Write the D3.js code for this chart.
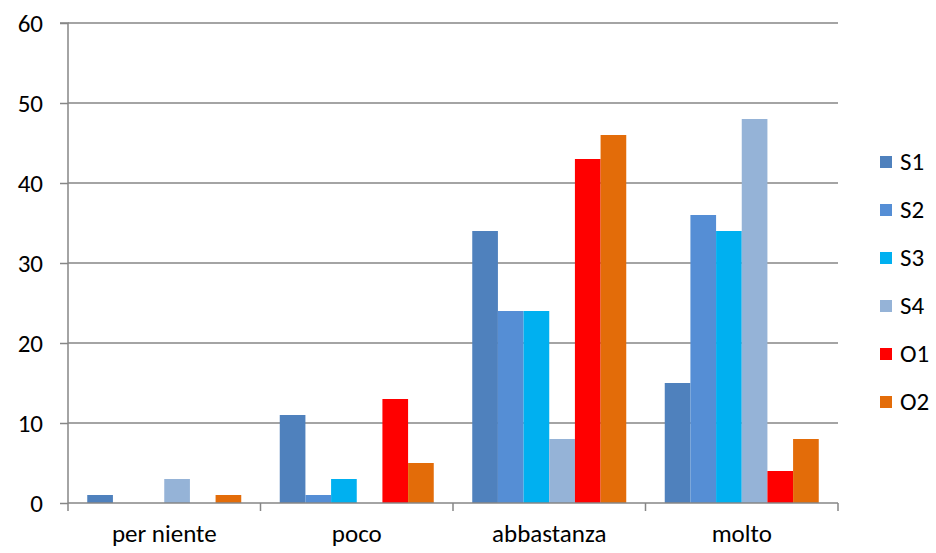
<!DOCTYPE html>
<html><head><meta charset="utf-8">
<script src="https://cdn.jsdelivr.net/npm/d3@7"></script>
<style>body{margin:0;background:#fff}svg{display:block}text{font-family:Carlito,Calibri,"Open Sans",sans-serif}</style>
</head><body><svg id="c" width="936" height="553"></svg>
<script>
const categories = ["per niente", "poco", "abbastanza", "molto"];
const seriesNames = ["S1", "S2", "S3", "S4", "O1", "O2"];
const S1 = [1, 11, 34, 15];
const S2 = [0, 1, 24, 36];
const S3 = [0, 3, 24, 34];
const S4 = [3, 0, 8, 48];
const O1 = [0, 13, 43, 4];
const O2 = [1, 5, 46, 8];
const yTicks = [0, 10, 20, 30, 40, 50, 60];
const colors = ["#4F81BD", "#558ED5", "#00B0F0", "#95B3D7", "#FF0000", "#E36C09"];
const seriesValues = [S1, S2, S3, S4, O1, O2];

const FS = 25;
const svg = d3.select("#c");
const L = 68, R = 838, T = 23, B = 503;
const x = d3.scaleBand().domain(categories).range([L, R]).paddingInner(0).paddingOuter(0);
const bw = x.bandwidth();
const inner = d3.scaleBand().domain(seriesNames).range([bw * 0.1, bw * 0.9]).paddingInner(0).paddingOuter(0);
const y = d3.scaleLinear().domain([0, 60]).range([B, T]);
const grey = "#868686";

// gridlines
svg.append("g").selectAll("line").data(yTicks.filter(d => d > 0)).join("line")
  .attr("x1", L).attr("x2", R).attr("y1", d => y(d)).attr("y2", d => y(d))
  .attr("stroke", grey).attr("stroke-width", 1.5);

// y axis
const ya = svg.append("g").attr("transform", `translate(${L},0)`)
  .call(d3.axisLeft(y).tickValues(yTicks).tickSize(8).tickPadding(17).tickFormat(d3.format("d")));
ya.select(".domain").attr("stroke", grey).attr("stroke-width", 1.5).attr("d", `M-8,${T}H0V${B}`);
ya.selectAll(".tick line").attr("stroke", grey).attr("stroke-width", 1.5);
ya.selectAll("text").attr("font-size", FS).attr("fill", "#000").attr("dy", "0.34em")
  .attr("font-family", "Carlito,Calibri,'Open Sans',sans-serif");

// bars
const g = svg.append("g");
seriesNames.forEach((s, i) => {
  g.append("g").selectAll("rect").data(categories.map((c, j) => ({c, v: seriesValues[i][j]}))).join("rect")
    .attr("x", d => x(d.c) + inner(s))
    .attr("width", inner.bandwidth())
    .attr("y", d => y(d.v))
    .attr("height", d => y(0) - y(d.v))
    .attr("fill", colors[i]);
});

// x axis
const xa = svg.append("g").attr("transform", `translate(0,${B})`);
xa.append("line").attr("x1", L).attr("x2", R).attr("stroke", grey).attr("stroke-width", 1.5);
xa.selectAll(".tk").data(d3.range(categories.length + 1)).join("line")
  .attr("x1", i => L + i * bw).attr("x2", i => L + i * bw)
  .attr("y1", 0).attr("y2", 8).attr("stroke", grey).attr("stroke-width", 1.5);
xa.selectAll("text").data(categories).join("text")
  .attr("x", d => x(d) + bw / 2).attr("y", 39)
  .attr("text-anchor", "middle").attr("font-size", FS).attr("fill", "#000").text(d => d);

// legend
const lg = svg.append("g").selectAll("g").data(seriesNames).join("g")
  .attr("transform", (d, i) => `translate(880,${162 + i * 48})`);
lg.append("rect").attr("x", 0).attr("y", -6).attr("width", 12).attr("height", 12).attr("fill", (d, i) => colors[i]);
lg.append("text").attr("x", 20).attr("y", 8).attr("font-size", FS).attr("fill", "#000").text(d => d);
</script></body></html>
